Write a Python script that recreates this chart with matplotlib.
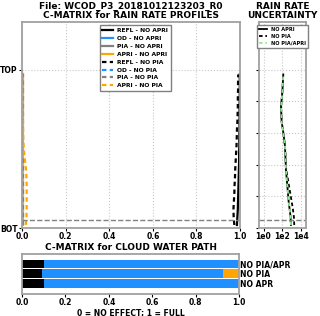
import numpy as np
from matplotlib import pyplot as plt

# profile heights (km), bottom to top
height = [0.1, 0.35, 0.6, 0.85, 1.1, 1.35, 1.6, 1.85, 2.1, 2.35,
          2.6, 2.85, 3.1, 3.35, 3.6, 3.85, 4.1, 4.35, 4.6, 4.85]

# C-matrix diagonal for rain rate, NO APRI case
refl_no_apri = [0.986, 0.988, 0.99, 0.991, 0.992, 0.993, 0.994, 0.995, 0.996, 0.996,
                0.997, 0.997, 0.998, 0.998, 0.998, 0.998, 0.999, 0.999, 0.999, 0.999]
od_no_apri = [0.0] * 20
pia_no_apri = [0.0] * 20
apri_no_apri = [0.002] * 20

# NO PIA case
refl_no_pia = [0.974, 0.971, 0.97, 0.972, 0.974, 0.975, 0.977, 0.978, 0.98, 0.982,
               0.984, 0.985, 0.986, 0.988, 0.989, 0.99, 0.99, 0.991, 0.991, 0.992]
od_no_pia = [0.0] * 20
pia_no_pia = [0.004] * 20
apri_no_pia = [0.017, 0.02, 0.021, 0.021, 0.021, 0.021, 0.02, 0.018, 0.014, 0.01,
               0.007, 0.005, 0.004, 0.003, 0.002, 0.001, 0.001, 0.001, 0.0, 0.0]

# rain rate uncertainty
unc_no_apri = [785, 725, 570, 445, 380, 323, 275, 233, 215, 200,
               183, 144, 113, 82, 75, 70, 85, 100, 110, 122]
unc_no_pia = [1750, 1620, 1270, 925, 670, 480, 350, 250, 220, 205,
              185, 146, 114, 83, 76, 71, 86, 101, 111, 123]
unc_no_pia_apri = [790, 730, 575, 450, 385, 328, 278, 235, 216, 201,
                   184, 145, 114, 83, 76, 71, 86, 101, 111, 122]

# cloud water path C-matrix
cwp_labels = ['NO APR', 'NO PIA', 'NO PIA/APR']
cwp_refl = [0.1, 0.09, 0.1]
cwp_od = [0.9, 0.835, 0.9]
cwp_pia = [0.0, 0.0, 0.0]
cwp_apri = [0.0, 0.075, 0.0]

blue = '#1e90ff'
dash = (0, (2, 1.5))
bold = {'fontweight': 'bold'}
plt.rcParams['font.weight'] = 'bold'
plt.rcParams['axes.edgecolor'] = '#a0a0a0'
plt.rcParams['axes.linewidth'] = 1.3
tick_fs = 5.5

fig = plt.figure(figsize=(3.2, 3.16), dpi=100)
ax = fig.add_axes([0.069, 0.278, 0.681, 0.652])
ax2 = fig.add_axes([0.81, 0.278, 0.146, 0.652])
ax3 = fig.add_axes([0.069, 0.07, 0.678, 0.126])

# main profile panel
ax.plot(refl_no_apri, height, color='black', lw=1.6, label='REFL - NO APRI')
ax.plot(od_no_apri, height, color=blue, lw=1.6, label='OD - NO APRI')
ax.plot(pia_no_apri, height, color='grey', lw=1.6, label='PIA - NO APRI')
ax.plot(apri_no_apri, height, color='orange', lw=1.6, label='APRI - NO APRI')
ax.plot(refl_no_pia, height, color='black', lw=1.6, ls=dash, label='REFL - NO PIA')
ax.plot(od_no_pia, height, color=blue, lw=1.6, ls=dash, label='OD - NO PIA')
ax.plot(pia_no_pia, height, color='grey', lw=1.6, ls=dash, label='PIA - NO PIA')
ax.plot(apri_no_pia, height, color='orange', lw=1.6, ls=dash, label='APRI - NO PIA')
ax.axhline(0.26, color='grey', lw=1, ls='--')
ax.set_xlim(0, 1)
ax.set_ylim(0, 6.5)
ax.set_yticks([0, 5])
ax.set_yticklabels(['BOT', 'TOP'])
ax.set_xticks([0, 0.2, 0.4, 0.6, 0.8, 1.0])
ax.tick_params(labelsize=tick_fs, length=2, pad=1)
ax.grid(True, ls=':', color='#c8c8c8', lw=0.8)
ax.set_title('File: WCOD_P3_20181012123203_R0\nC-MATRIX for RAIN RATE PROFILES',
             fontsize=6.5, pad=3, linespacing=1.05, **bold)
leg = ax.legend(loc='upper center', bbox_to_anchor=(0.52, 1.0), fontsize=4.3,
                handlelength=1.7, labelspacing=0.45, borderpad=0.5,
                fancybox=False, framealpha=1, edgecolor='#808080')
leg.get_frame().set_linewidth(1)

# uncertainty panel
ax2.plot(unc_no_apri, height, color='black', lw=1.3, label='NO APRI')
ax2.plot(unc_no_pia, height, color='black', lw=1.3, ls=dash, label='NO PIA')
ax2.plot(unc_no_pia_apri, height, color='lightgreen', lw=1.3, ls=dash, label='NO PIA/APRI')
ax2.axhline(0.26, color='grey', lw=1, ls='--')
ax2.set_xscale('log')
ax2.set_xlim(0.35, 3e4)
ax2.set_ylim(0, 6.5)
ax2.set_xticks([1, 1e2, 1e4])
ax2.set_xticklabels(['1e0', '1e2', '1e4'])
ax2.minorticks_off()
ax2.set_yticks([0, 1, 2, 3, 4, 5])
ax2.set_yticklabels([])
ax2.tick_params(labelsize=tick_fs, length=2, pad=1)
ax2.grid(True, ls=':', color='#c8c8c8', lw=0.8)
ax2.set_title('RAIN RATE\nUNCERTAINTY', fontsize=6.5, pad=3, linespacing=1.05, **bold)
leg2 = ax2.legend(loc='upper center', fontsize=3.6, handlelength=1.6,
                  labelspacing=0.4, borderpad=0.4, fancybox=False, framealpha=1,
                  edgecolor='#808080')
leg2.get_frame().set_linewidth(1)

# cloud water path panel
ypos = np.arange(len(cwp_labels))
left = np.zeros(len(cwp_labels))
for vals, col in [(cwp_refl, 'black'), (cwp_od, blue), (cwp_pia, 'grey'), (cwp_apri, 'orange')]:
    ax3.barh(ypos, vals, left=left, height=0.9, color=col)
    left = left + np.array(vals)
ax3.set_xlim(0, 1)
ax3.set_ylim(-1, 3)
ax3.set_yticks(ypos)
ax3.set_yticklabels(cwp_labels)
ax3.yaxis.tick_right()
ax3.set_xticks([0, 0.2, 0.4, 0.6, 0.8, 1.0])
ax3.tick_params(labelsize=tick_fs, length=0, pad=1)
ax3.tick_params(axis='x', length=2)
ax3.set_title('C-MATRIX for CLOUD WATER PATH', fontsize=6.5, pad=3, **bold)
ax3.set_xlabel('0 = NO EFFECT; 1 = FULL', fontsize=tick_fs, labelpad=1, **bold)

plt.savefig('out.png', dpi=100)
